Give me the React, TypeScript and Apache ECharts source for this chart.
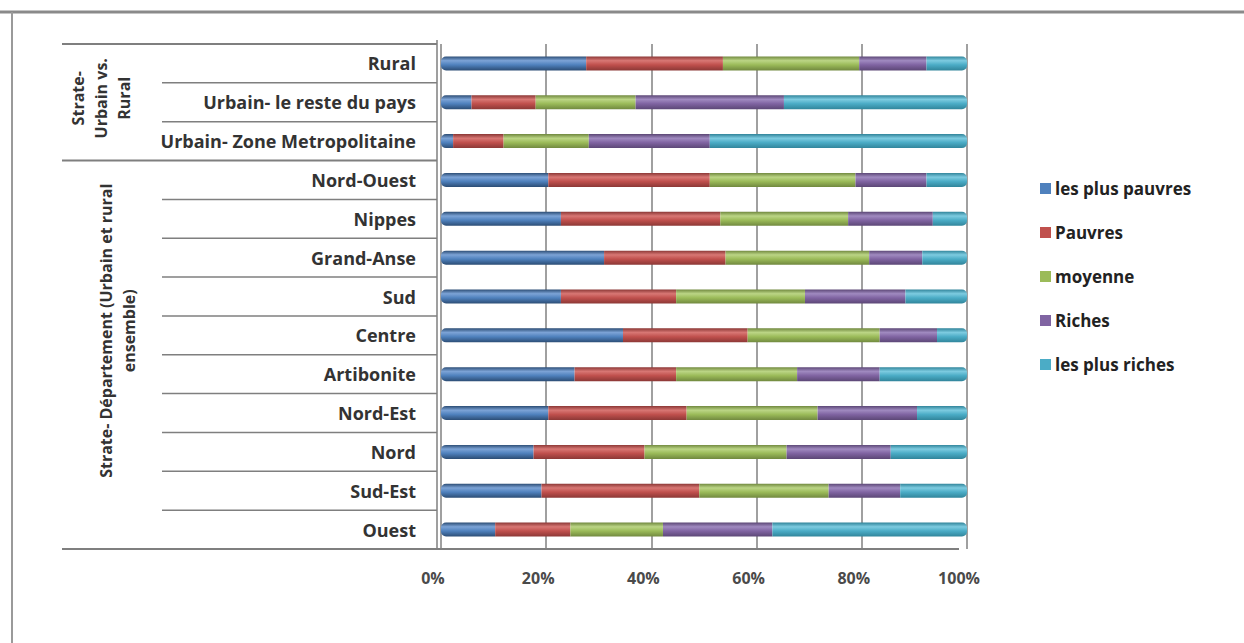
import React, { useEffect, useRef } from "react";
import * as echarts from "echarts";

const categories = [
  "Rural",
  "Urbain- le reste du pays",
  "Urbain- Zone Metropolitaine",
  "Nord-Ouest",
  "Nippes",
  "Grand-Anse",
  "Sud",
  "Centre",
  "Artibonite",
  "Nord-Est",
  "Nord",
  "Sud-Est",
  "Ouest",
];

const seriesNames = ["les plus pauvres", "Pauvres", "moyenne", "Riches", "les plus riches"];

const plusPauvres = [27.6, 5.8, 2.3, 20.4, 22.8, 31.0, 22.8, 34.6, 25.4, 20.4, 17.6, 19.1, 10.3];
const pauvres = [26.0, 12.2, 9.6, 30.7, 30.3, 23.1, 21.9, 23.7, 19.3, 26.3, 21.1, 30.0, 14.3];
const moyenne = [25.9, 19.0, 16.2, 27.7, 24.3, 27.3, 24.5, 25.1, 23.0, 24.9, 27.0, 24.6, 17.6];
const riches = [12.8, 28.2, 23.0, 13.5, 16.1, 10.1, 19.1, 10.9, 15.7, 18.9, 19.8, 13.6, 20.8];
const plusRiches = [7.7, 34.8, 48.9, 7.7, 6.5, 8.5, 11.7, 5.7, 16.6, 9.5, 14.5, 12.7, 37.0];

const xTicks = [0, 20, 40, 60, 80, 100];

const groups = [
  { label: "Strate-\nUrbain vs.\nRural", count: 3 },
  { label: "Strate- Département (Urbain et rural\nensemble)", count: 10 },
];

const palette = [
  { base: "#4F81BD", light: "#7CA3D6", dark: "#2C4D75" },
  { base: "#C0504D", light: "#D87774", dark: "#8C3836" },
  { base: "#9BBB59", light: "#BBD585", dark: "#71893F" },
  { base: "#8064A2", light: "#A08AC0", dark: "#5C4776" },
  { base: "#4BACC6", light: "#7DCBE0", dark: "#31859B" },
];

const FONT = "'Open Sans', Lato, sans-serif";
const W = 1244;
const H = 643;
const GRID_LEFT = 441;
const GRID_RIGHT_X = 967;
const GRID_TOP = 44;
const GRID_BOTTOM_Y = 549;
const TABLE_LEFT = 62;
const CAT_LINE_LEFT = 162;

export default function App() {
  const ref = useRef<HTMLDivElement>(null);

  useEffect(() => {
    if (!ref.current) return;
    const chart = echarts.init(ref.current, undefined, { renderer: "svg" });
    const values = [plusPauvres, pauvres, moyenne, riches, plusRiches];

    const grad = (p: { base: string; light: string; dark: string }) =>
      new echarts.graphic.LinearGradient(0, 0, 0, 1, [
        { offset: 0, color: p.dark },
        { offset: 0.3, color: p.light },
        { offset: 0.6, color: p.base },
        { offset: 1, color: p.dark },
      ]);

    const band = (GRID_BOTTOM_Y - GRID_TOP) / categories.length;

    const graphics: any[] = [];
    graphics.push({
      type: "line",
      shape: { x1: 0, y1: 12, x2: W, y2: 12 },
      style: { stroke: "#8a8a8a", lineWidth: 3 },
    });
    graphics.push({
      type: "line",
      shape: { x1: 12, y1: 12, x2: 12, y2: H },
      style: { stroke: "#9a9a9a", lineWidth: 2 },
    });
    graphics.push({
      type: "line",
      shape: { x1: TABLE_LEFT, y1: GRID_TOP, x2: GRID_LEFT - 4, y2: GRID_TOP },
      style: { stroke: "#7f7f7f", lineWidth: 2 },
    });
    graphics.push({
      type: "line",
      shape: { x1: TABLE_LEFT, y1: GRID_BOTTOM_Y, x2: GRID_RIGHT_X - 8, y2: GRID_BOTTOM_Y },
      style: { stroke: "#7f7f7f", lineWidth: 2 },
    });
    let idx = 0;
    groups.forEach((g, gi) => {
      const yStart = GRID_TOP + idx * band;
      const yEnd = GRID_TOP + (idx + g.count) * band;
      for (let k = 1; k < g.count; k++) {
        const y = GRID_TOP + (idx + k) * band;
        graphics.push({
          type: "line",
          shape: { x1: CAT_LINE_LEFT, y1: y, x2: GRID_LEFT - 4, y2: y },
          style: { stroke: "#7f7f7f", lineWidth: 1.5 },
        });
      }
      if (gi < groups.length - 1) {
        graphics.push({
          type: "line",
          shape: { x1: TABLE_LEFT, y1: yEnd, x2: GRID_LEFT - 4, y2: yEnd },
          style: { stroke: "#7f7f7f", lineWidth: 2 },
        });
      }
      graphics.push({
        type: "text",
        x: gi === 0 ? 101 : 117,
        y: gi === 0 ? (yStart + yEnd) / 2 - 4 : (yStart + yEnd) / 2 - 24,
        rotation: Math.PI / 2,
        style: {
          text: g.label,
          font: `bold 16px ${FONT}`,
          fill: "#333333",
          align: "center",
          verticalAlign: "middle",
          lineHeight: 23,
        },
      });
      idx += g.count;
    });
    graphics.push({
      type: "line",
      shape: { x1: GRID_LEFT - 4, y1: GRID_TOP - 4, x2: GRID_LEFT - 4, y2: GRID_BOTTOM_Y },
      style: { stroke: "#7f7f7f", lineWidth: 1.5 },
    });

    const last = values.length - 1;
    chart.setOption({
      animation: false,
      grid: {
        left: GRID_LEFT,
        right: W - GRID_RIGHT_X,
        top: GRID_TOP,
        bottom: H - GRID_BOTTOM_Y,
        containLabel: false,
      },
      legend: {
        orient: "vertical",
        left: 1035,
        top: 175,
        itemWidth: 11,
        itemHeight: 11,
        itemGap: 27,
        icon: "rect",
        data: seriesNames.map((n, i) => ({ name: n, itemStyle: { color: palette[i].base } })),
        textStyle: { fontFamily: FONT, fontSize: 17, color: "#222222", fontWeight: "bold", padding: [0, 0, 0, -1] },
      },
      xAxis: {
        type: "value",
        min: xTicks[0],
        max: xTicks[xTicks.length - 1],
        interval: xTicks[1] - xTicks[0],
        axisLine: { show: false },
        axisTick: { show: false },
        splitLine: { show: true, lineStyle: { color: "#808080", width: 1.5 } },
        axisLabel: {
          formatter: "{value}%",
          fontFamily: FONT,
          fontWeight: "bold",
          fontSize: 16,
          color: "#4a4a4a",
          margin: 21,
          padding: [0, 16, 0, 0],
        },
      },
      yAxis: {
        type: "category",
        data: categories,
        inverse: true,
        axisLine: { show: false },
        axisTick: { show: false },
        axisLabel: {
          fontFamily: FONT,
          fontWeight: "bold",
          fontSize: 18,
          color: "#333333",
          margin: 25,
        },
      },
      series: values.map((v, i) => ({
        name: seriesNames[i],
        type: "bar",
        stack: "total",
        barWidth: 14,
        data: v,
        itemStyle: {
          color: grad(palette[i]),
          borderRadius: i === 0 ? [5, 0, 0, 5] : i === last ? [0, 5, 5, 0] : 0,
        },
      })),
      graphic: graphics,
    });
    return () => chart.dispose();
  }, []);

  return (
    <div
      ref={ref}
      style={{ position: "fixed", left: 0, top: 0, width: W, height: H, background: "#ffffff" }}
    />
  );
}
